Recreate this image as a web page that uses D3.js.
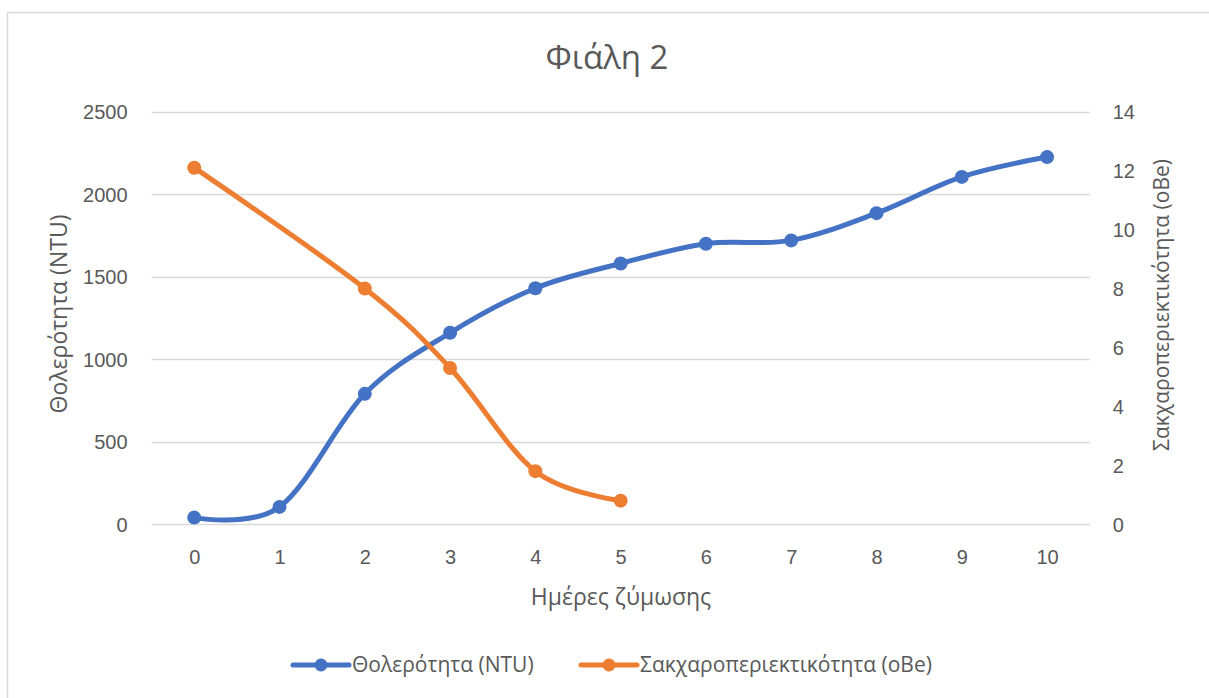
<!DOCTYPE html>
<html>
<head>
<meta charset="utf-8">
<script src="https://cdn.jsdelivr.net/npm/d3@7"></script>
<style>
  html, body { margin: 0; padding: 0; background: #fff; }
  svg { display: block; font-family: "Open Sans", "Noto Sans", sans-serif; }
</style>
</head>
<body>
<svg id="chart" width="1209" height="698"></svg>
<script>
// Days of fermentation
const days = ["0", "1", "2", "3", "4", "5", "6", "7", "8", "9", "10"];
// Turbidity (NTU), left axis
const turbidity = [40, 105, 790, 1160, 1430, 1580, 1700, 1720, 1885, 2105, 2225];
// Sugar content (oBe), right axis; no reading on day 1 and after day 5
const sugar = [12.1, null, 8.0, 5.3, 1.8, 0.8, null, null, null, null, null];

const leftTicks = [0, 500, 1000, 1500, 2000, 2500];
const rightTicks = [0, 2, 4, 6, 8, 10, 12, 14];

const titleText = "Φιάλη 2";
const xTitle = "Ημέρες ζύμωσης";
const yLeftTitle = "Θολερότητα (NTU)";
const yRightTitle = "Σακχαροπεριεκτικότητα (oBe)";

const BLUE = "#4472C4", ORANGE = "#ED7D31", TEXT = "#595959", GRID = "#D9D9D9";

const svg = d3.select("#chart");

// chart frame
svg.append("rect")
  .attr("x", 7.5).attr("y", 12.5)
  .attr("width", 1230).attr("height", 720)
  .attr("fill", "#fff").attr("stroke", GRID).attr("stroke-width", 1.5);

const plot = { left: 151.6, right: 1089.7, top: 111.7, bottom: 524.2 };

const x = d3.scalePoint().domain(days)
  .range([plot.left, plot.right]).padding(0.5);
const yL = d3.scaleLinear().domain([0, 2500]).range([plot.bottom, plot.top]);
const yR = d3.scaleLinear().domain([0, 14]).range([plot.bottom, plot.top]);

// horizontal gridlines
svg.append("g").selectAll("line").data(leftTicks).join("line")
  .attr("x1", plot.left).attr("x2", plot.right)
  .attr("y1", d => Math.round(yL(d)) + 0.5).attr("y2", d => Math.round(yL(d)) + 0.5)
  .attr("stroke", GRID).attr("stroke-width", 1.5);

// left axis
const axL = svg.append("g")
  .attr("transform", `translate(${plot.left - 24},0)`)
  .call(d3.axisLeft(yL).tickValues(leftTicks).tickFormat(d3.format("d"))
    .tickSize(0).tickPadding(0));
axL.select(".domain").remove();
axL.selectAll("text").attr("fill", TEXT).style("font-size", "20px")
  .attr("dy", "0.35em");

// right axis
const axR = svg.append("g")
  .attr("transform", `translate(${plot.right + 23},0)`)
  .call(d3.axisRight(yR).tickValues(rightTicks).tickFormat(d3.format("d"))
    .tickSize(0).tickPadding(0));
axR.select(".domain").remove();
axR.selectAll("text").attr("fill", TEXT).style("font-size", "20px")
  .attr("dy", "0.35em");

// bottom axis
const axB = svg.append("g")
  .attr("transform", `translate(0,${plot.bottom + 33})`)
  .call(d3.axisBottom(x).tickSize(0).tickPadding(0));
axB.select(".domain").remove();
axB.selectAll("text").attr("fill", TEXT).style("font-size", "20px")
  .attr("dy", "0.35em");

// titles
svg.append("text").attr("x", 607).attr("y", 57).attr("dy", "0.35em")
  .attr("text-anchor", "middle").attr("fill", TEXT).style("font-size", "33px")
  .text(titleText);

svg.append("text").attr("x", 621).attr("y", 597).attr("dy", "0.35em")
  .attr("text-anchor", "middle").attr("fill", TEXT).style("font-size", "23px")
  .text(xTitle);

svg.append("text")
  .attr("transform", "translate(59,314) rotate(-90)").attr("dy", "0.35em")
  .attr("text-anchor", "middle").attr("fill", TEXT).style("font-size", "23px")
  .text(yLeftTitle);

svg.append("text")
  .attr("transform", "translate(1162,305) rotate(-90)").attr("dy", "0.35em")
  .attr("text-anchor", "middle").attr("fill", TEXT).style("font-size", "21px")
  .text(yRightTitle);

// series
const series = [
  { name: yLeftTitle, values: turbidity, y: yL, color: BLUE },
  { name: yRightTitle, values: sugar, y: yR, color: ORANGE }
];

const line = d3.line().curve(d3.curveCardinal.tension(0));

series.forEach(s => {
  const pts = days.map((d, i) => [d, s.values[i]])
    .filter(p => p[1] !== null)
    .map(p => [x(p[0]), s.y(p[1])]);
  const g = svg.append("g");
  g.append("path").attr("d", line(pts))
    .attr("fill", "none").attr("stroke", s.color)
    .attr("stroke-width", 5).attr("stroke-linecap", "round").attr("stroke-linejoin", "round");
  g.selectAll("circle").data(pts).join("circle")
    .attr("cx", p => p[0]).attr("cy", p => p[1]).attr("r", 7)
    .attr("fill", s.color);
});

// legend
const legendItems = [
  { label: yLeftTitle, color: BLUE, x0: 293 },
  { label: yRightTitle, color: ORANGE, x0: 581 }
];
const lg = svg.append("g");
legendItems.forEach(it => {
  lg.append("line").attr("x1", it.x0).attr("x2", it.x0 + 56)
    .attr("y1", 665).attr("y2", 665)
    .attr("stroke", it.color).attr("stroke-width", 5).attr("stroke-linecap", "round");
  lg.append("circle").attr("cx", it.x0 + 28).attr("cy", 665).attr("r", 6.5).attr("fill", it.color);
  lg.append("text").attr("x", it.x0 + 59).attr("y", 665).attr("dy", "0.35em")
    .attr("fill", TEXT).style("font-size", "21px").text(it.label);
});
</script>
</body>
</html>
